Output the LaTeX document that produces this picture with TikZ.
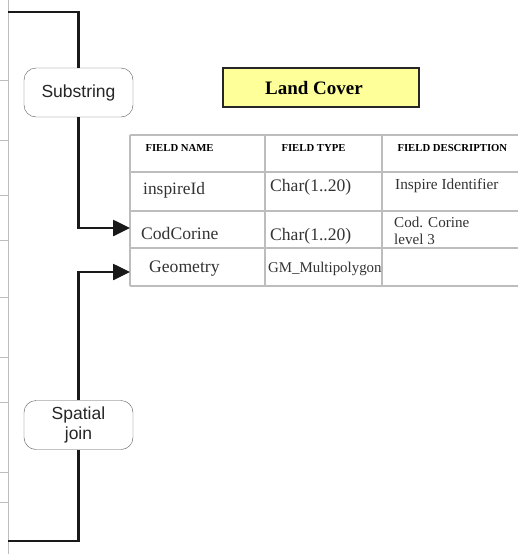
\documentclass[tikz,border=0pt]{standalone}
\usepackage{fontspec}
\setmainfont{Liberation Serif}
\setsansfont{Liberation Sans}
\usetikzlibrary{arrows.meta}
\definecolor{titlefill}{HTML}{FFFF99}
\definecolor{gridgray}{HTML}{BDBDBD}
\definecolor{textgray}{HTML}{333333}
\begin{document}
\begin{tikzpicture}[x = 1pt, y = -1pt,
	opbox/.style = {draw = black!65, rounded corners = 12pt, fill = white, minimum width = 109pt, minimum height = 49pt, align = center, font = \sffamily\fontsize{17.5}{20}\selectfont, text = black!85},
	flow/.style = {line width = 2.6pt, black!90},
	head/.style = {anchor = west, font = \bfseries\fontsize{10.7}{12}\selectfont},
	cell/.style = {anchor = west, text = textgray, inner sep = 0pt}]
	\useasboundingbox (0, 0) rectangle (518, 554);
	
	% frame of the neighbouring table
	\draw[gridgray, line width = 1pt] (8, 0) -- (8, 554);
	\foreach \y in {80, 140, 195, 240, 297, 357, 402, 472, 502}
		\draw[gridgray, line width = 1pt] (0, \y) -- (8, \y);
	
	% title
	\node[draw = black!85, line width = 2.6pt, fill = titlefill, minimum width = 196pt, minimum height = 39pt] (titlebox) at (321, 87.5) {};
	\node[font = \bfseries\fontsize{19}{22}\selectfont] (landcover) at (314, 88) {Land Cover};
	
	% table grid
	\foreach \y in {135, 172, 211, 248, 286}
		\draw[gridgray, line width = 1.2pt] (130, \y) -- (518, \y);
	\foreach \x in {130, 265, 382}
		\draw[gridgray, line width = 1.2pt] (\x, 135) -- (\x, 286);
	
	\node[head] (hname) at (142, 148) {FIELD NAME};
	\node[head] (htype) at (278, 148) {FIELD TYPE};
	\node[head] (hdesc) at (394, 148) {FIELD DESCRIPTION};
	
	\node[cell, font = \fontsize{17.4}{19}\selectfont] (inspire) at (143, 190) {inspireId};
	\node[cell, font = \fontsize{17.6}{19}\selectfont] (type1) at (270, 187) {Char(1..20)};
	\node[cell, font = \fontsize{15.3}{17}\selectfont] (desc1) at (395, 186) {Inspire Identifier};
	\node[cell, font = \fontsize{17.6}{19}\selectfont] (codcorine) at (141, 233) {CodCorine};
	\node[cell, font = \fontsize{17.6}{19}\selectfont] (type2) at (270, 236) {Char(1..20)};
	\node[cell, font = \fontsize{15.1}{17}\selectfont, align = left] (desc2) at (394, 231) {Cod. Corine\\level 3};
	\node[cell, font = \fontsize{17.6}{19}\selectfont] (geometry) at (149, 269) {Geometry};
	\node[cell, font = \fontsize{14.9}{17}\selectfont] (type3) at (268, 269) {GM\_Multipolygon};
	
	% operations
	\node[opbox] (substring) at (78.5, 92.5) {Substring};
	\node[opbox, font = \sffamily\fontsize{17.5}{20.5}\selectfont] (spatial) at (78.5, 425) {Spatial\\join};
	
	\coordinate (topin) at (8, 12);
	\coordinate (botin) at (8, 541);
	\coordinate (codin) at (130, 228);
	\coordinate (geoin) at (130, 272);
	
	\draw[flow] (topin) -| (substring.north);
	\draw[flow, -{Triangle[length = 17pt, width = 16pt]}] (substring.south) |- (codin);
	\draw[flow] (botin) -| (spatial.south);
	\draw[flow, -{Triangle[length = 17pt, width = 16pt]}] (spatial.north) |- (geoin);
\end{tikzpicture}
\end{document}
